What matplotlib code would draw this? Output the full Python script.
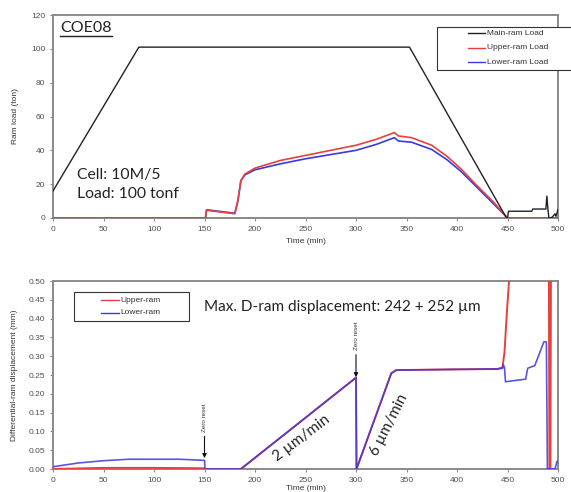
import matplotlib
matplotlib.use("Agg")
import matplotlib.pyplot as plt
from matplotlib.patches import Rectangle
from matplotlib.lines import Line2D

# ---------------- data ----------------
# Top panel: ram loads (ton) vs time (min)
main_t = [0, 85, 353, 449, 450, 451, 474, 475, 488, 489, 490, 491, 493, 495, 497, 498, 499, 500]
main_v = [16, 101, 101, 0, 0, 4, 4, 5.3, 5.3, 13, 5.3, 0, 0, 1, 2.5, 1, 3, 5]

upper_t = [0, 151, 152, 153, 180, 183, 186, 190, 200, 225, 250, 275, 300, 320, 338, 342, 355, 375, 390, 404, 420, 436, 450, 500]
upper_v = [0, 0, 4.5, 4.5, 2.5, 10, 22, 26, 29.5, 34, 37, 40, 43, 46.5, 50.5, 48.5, 47.5, 43, 36.5, 29, 19, 9.5, 0, 0]

lower_t = [0, 151, 152, 153, 180, 183, 186, 190, 200, 225, 250, 275, 300, 320, 338, 342, 355, 375, 390, 404, 420, 436, 450, 500]
lower_v = [0, 0, 4.8, 4.8, 2.8, 10, 22, 25.5, 28.5, 32, 35, 37.5, 40, 43.5, 47.5, 45.5, 44.8, 40.5, 34.5, 27.5, 18, 8.5, 0, 0]

# Bottom panel: differential-ram displacement (mm)
dup_t = [0, 50, 100, 150, 151, 186, 300, 300.5, 335, 340, 400, 440, 445, 447, 449, 452, 491, 491.5, 492.5, 493, 500]
dup_v = [0.0, 0.003, 0.003, 0.002, 0.0, 0.0, 0.243, 0.0, 0.255, 0.263, 0.265, 0.266, 0.27, 0.31, 0.40, 0.52, 0.52, 0.0, 0.0, 0.52, 0.52]

dlo_t = [0, 25, 50, 75, 100, 125, 150, 150.5, 186, 300, 300.5, 335, 340, 400, 440, 445, 446, 447, 448, 468, 470, 477, 486, 488.5, 489.5, 497, 499, 500]
dlo_v = [0.006, 0.016, 0.022, 0.026, 0.026, 0.026, 0.023, 0.0, 0.0, 0.243, 0.0, 0.255, 0.263, 0.265, 0.266, 0.268, 0.277, 0.270, 0.232, 0.239, 0.268, 0.275, 0.338, 0.338, 0.0, 0.0, 0.02, 0.02]

x_ticks = [0, 50, 100, 150, 200, 250, 300, 350, 400, 450, 500]
top_yticks = [0, 20, 40, 60, 80, 100, 120]
bot_yticks = [0.00, 0.05, 0.10, 0.15, 0.20, 0.25, 0.30, 0.35, 0.40, 0.45, 0.50]

# ---------------- figure ----------------
W, H = 571, 492
fig = plt.figure(figsize=(W / 100, H / 100), dpi=100)
TICKFONT = ['Liberation Sans', 'DejaVu Sans']
BIGFONT = ['Lato', 'DejaVu Sans']
GRAY = '#8a8a8a'
TXTGRAY = '#505050'


def fx(px):
    return px / W


def fy(py):
    return 1 - py / H


def style(ax):
    for s in ax.spines.values():
        s.set_color(GRAY)
        s.set_linewidth(1.4)
    ax.tick_params(direction='out', length=2.5, width=0.8, color=GRAY,
                   labelsize=6, labelcolor=TXTGRAY, pad=3)
    for lab in ax.get_xticklabels() + ax.get_yticklabels():
        lab.set_family(TICKFONT)


ax1 = fig.add_axes([fx(53), fy(218), fx(558) - fx(53), fy(15) - fy(218)])
ax1.plot(main_t, main_v, color='#222222', lw=1.0, zorder=5)
ax1.plot(lower_t, lower_v, color='#3a3adf', lw=1.2, zorder=3)
ax1.plot(upper_t, upper_v, color='#e8403c', lw=1.2, zorder=4)
ax1.set_xlim(0, 500)
ax1.set_ylim(0, 120)
ax1.set_xticks(x_ticks)
ax1.set_yticks(top_yticks)
style(ax1)
ax1.set_xlabel('Time (min)', fontsize=6, color='#333333', family=TICKFONT, labelpad=4)
ax1.set_ylabel('Ram load (ton)', fontsize=6, color='#333333', family=TICKFONT, labelpad=9)

t_coe = ax1.text(fx(60), fy(28), 'COE08', transform=fig.transFigure, fontsize=11.5,
                 family=BIGFONT, va='center', ha='left', color='#222222')
ax1.text(fx(77), fy(175), 'Cell: 10M/5', transform=fig.transFigure, fontsize=11.3,
         family=BIGFONT, va='center', ha='left', color='#222222')
ax1.text(fx(77), fy(194), 'Load: 100 tonf', transform=fig.transFigure, fontsize=11.3,
         family=BIGFONT, va='center', ha='left', color='#222222')

# top legend (manual box)
fig.patches.append(Rectangle((fx(437), fy(70)), fx(575) - fx(437), fy(27) - fy(70),
                             transform=fig.transFigure, fill=True, facecolor='white',
                             edgecolor='#333333', lw=0.8, zorder=5))
for i, (lab, col) in enumerate([('Main-ram Load', '#222222'),
                                 ('Upper-ram Load', '#e8403c'),
                                 ('Lower-ram Load', '#3a3adf')]):
    yy = 33 + i * 14.5
    fig.lines.append(Line2D([fx(468), fx(485)], [fy(yy), fy(yy)], transform=fig.transFigure,
                            color=col, lw=1.0, zorder=6))
    fig.text(fx(487), fy(yy), lab, fontsize=6, family=TICKFONT, va='center', ha='left',
             color='#333333', zorder=6)

# ---------------- bottom panel ----------------
ax2 = fig.add_axes([fx(53), fy(469), fx(558) - fx(53), fy(281) - fy(469)])
ax2.plot(dup_t, dup_v, color='#e8403c', lw=1.4, zorder=3)
ax2.plot(dlo_t, dlo_v, color='#3a3adf', lw=1.2, alpha=0.85, zorder=4)
ax2.set_xlim(0, 500)
ax2.set_ylim(0, 0.5)
ax2.set_xticks(x_ticks)
ax2.set_yticks(bot_yticks)
ax2.set_yticklabels(['%.2f' % v for v in bot_yticks])
style(ax2)
ax2.set_xlabel('Time (min)', fontsize=6, color='#333333', family=TICKFONT, labelpad=1)
ax2.set_ylabel('Differential-ram displacement (mm)', fontsize=6, color='#333333',
               family=TICKFONT, labelpad=8)

ax2.text(fx(204), fy(307), 'Max. D-ram displacement: 242 + 252 \u00b5m', transform=fig.transFigure,
         fontsize=11, family=BIGFONT, va='center', ha='left', color='#222222')
ax2.text(246, 0.082, '2 \u00b5m/min', fontsize=11, family=BIGFONT, rotation=37,
         ha='center', va='center', color='#222222', rotation_mode='anchor')
ax2.text(333, 0.118, '6 \u00b5m/min', fontsize=11, family=BIGFONT, rotation=63,
         ha='center', va='center', color='#222222', rotation_mode='anchor')

for xz, ytxt, ytip in [(150, 0.099, 0.029), (300, 0.316, 0.244)]:
    ax2.text(xz, ytxt, 'Zero reset', fontsize=4.5, family=TICKFONT, rotation=90,
             ha='center', va='bottom', color='#333333')
    ax2.annotate('', xy=(xz, ytip), xytext=(xz, ytxt - 0.012),
                 arrowprops=dict(arrowstyle='-|>', color='#111111', lw=0.8,
                                 mutation_scale=6, shrinkA=0, shrinkB=0))

# bottom legend (manual box)
fig.patches.append(Rectangle((fx(74), fy(321)), fx(189) - fx(74), fy(292) - fy(321),
                             transform=fig.transFigure, fill=True, facecolor='white',
                             edgecolor='#333333', lw=0.8, zorder=5))
for i, (lab, col) in enumerate([('Upper-ram', '#e8403c'), ('Lower-ram', '#3a3adf')]):
    yy = 300 + i * 13
    fig.lines.append(Line2D([fx(101), fx(119)], [fy(yy), fy(yy)], transform=fig.transFigure,
                            color=col, lw=1.0, zorder=6))
    fig.text(fx(120), fy(yy), lab, fontsize=6, family=TICKFONT, va='center', ha='left',
             color='#333333', zorder=6)

# underline for COE08
fig.canvas.draw()
bb = t_coe.get_window_extent()
fig.lines.append(Line2D([bb.x0 / W, bb.x1 / W], [(bb.y0 - 1) / H, (bb.y0 - 1) / H],
                        transform=fig.transFigure, color='#222222', lw=1.0))

fig.savefig('out.png', dpi=100)
